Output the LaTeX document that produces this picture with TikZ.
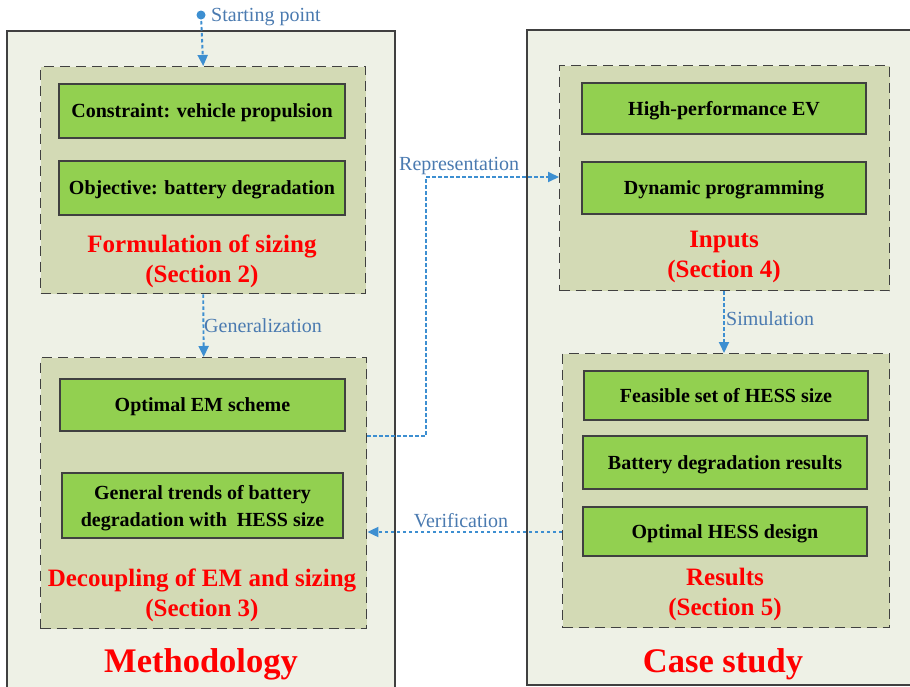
\documentclass[tikz,border=0pt]{standalone}
\usepackage{fontspec}
\setmainfont{Liberation Serif}
\usetikzlibrary{arrows.meta}
\definecolor{outerfill}{HTML}{EEF1E6}
\definecolor{dashfill}{HTML}{D3DAB5}
\definecolor{gbox}{HTML}{92D050}
\definecolor{gborder}{HTML}{404040}
\definecolor{flowblue}{HTML}{3D8FD1}
\definecolor{labblue}{HTML}{4A7AB0}
\tikzset{
  outerbox/.style={draw=gborder, line width=1.3pt, fill=outerfill},
  groupbox/.style={draw=gborder, line width=1.4pt, dash pattern=on 10pt off 6pt, fill=dashfill},
  itembox/.style={draw=gborder, line width=1.2pt, fill=gbox, font=\bfseries\fontsize{20}{27}\selectfont, align=center, inner sep=0pt, text depth=0pt},
  sectitle/.style={text=red, font=\bfseries\fontsize{25}{30}\selectfont, align=center},
  bigtitle/.style={text=red, font=\bfseries\fontsize{34.5}{38}\selectfont},
  flow/.style={draw=flowblue, line width=1.9pt, dash pattern=on 3.5pt off 2.5pt, -{Triangle[length=11pt,width=10pt]}},
  flowlab/.style={text=labblue, font=\fontsize{20}{22}\selectfont, inner sep=1pt},
}
\begin{document}
\begin{tikzpicture}[x=1pt,y=-1pt]
\useasboundingbox (0,0) rectangle (910,686);
% outer boxes
\path[outerbox] (7,31) rectangle (395,690);
\path[outerbox] (527,30) rectangle (915,685);
% group boxes (left)
\node[groupbox, minimum width=325pt, minimum height=227pt, anchor=north west] (g1) at (40,66) {};
\node[groupbox, minimum width=326pt, minimum height=271pt, anchor=north west] (g2) at (40,357) {};
% group boxes (right)
\node[groupbox, minimum width=330pt, minimum height=225pt, anchor=north west] (g3) at (559,65) {};
\node[groupbox, minimum width=327pt, minimum height=274pt, anchor=north west] (g4) at (562,353) {};
% items
\node[itembox, minimum width=286pt, minimum height=54pt] (c1) at (202,111) {Constraint: vehicle propulsion};
\node[itembox, minimum width=286pt, minimum height=54pt] (c2) at (202,188) {Objective: battery degradation};
\node[sectitle] (t1) at (202,261) {Formulation of sizing\\(Section 2)};
\node[itembox, minimum width=285pt, minimum height=52pt] (d1) at (202.5,405) {Optimal EM scheme};
\node[itembox, minimum width=281pt, minimum height=65pt] (d2) at (202.5,505.5) {General trends of battery\\degradation with\ \ HESS size};
\node[sectitle] (t2) at (202,595) {Decoupling of EM and sizing\\(Section 3)};
\node[bigtitle] (m) at (201,664) {Methodology};
\node[itembox, minimum width=284pt, minimum height=51pt] (i1) at (724,108.5) {High-performance EV};
\node[itembox, minimum width=284pt, minimum height=52pt] (i2) at (724,188) {Dynamic programming};
\node[sectitle] (t3) at (724,257) {Inputs\\(Section 4)};
\node[itembox, minimum width=284pt, minimum height=49pt] (r1) at (726,395.5) {Feasible set of HESS size};
\node[itembox, minimum width=284pt, minimum height=53pt] (r2) at (725,462.5) {Battery degradation results};
\node[itembox, minimum width=284pt, minimum height=49pt] (r3) at (725,531.5) {Optimal HESS design};
\node[sectitle] (t4) at (725,594) {Results\\(Section 5)};
\node[bigtitle] (cs) at (723,664) {Case study};
% flows
\coordinate (sp) at (201,15);
\fill[flowblue] (sp) circle (4.5pt);
\node[flowlab, anchor=west] (spl) at (210,17) {Starting point};
\draw[flow] (sp) -- (g1.north);
\draw[flow] (g1.south) -- (g2.north);
\node[flowlab, anchor=west] (gl) at (203,326) {Generalization};
\coordinate (rp1) at (426,436);
\coordinate (rp2) at (426,177);
\draw[flow] (g2.east |- rp1) -- (rp1) -- (rp2) -- (g3.west |- rp2);
\node[flowlab, anchor=west] (rpl) at (398,166) {Representation};
\coordinate (simx) at (724,0);
\draw[flow] (g3.south -| simx) -- (g4.north -| simx);
\node[flowlab, anchor=west] (sml) at (725,319) {Simulation};
\coordinate (vf) at (562,532);
\draw[flow] (g4.west |- vf) -- (g2.east |- vf);
\node[flowlab] (vfl) at (461,521) {Verification};
\end{tikzpicture}
\end{document}
